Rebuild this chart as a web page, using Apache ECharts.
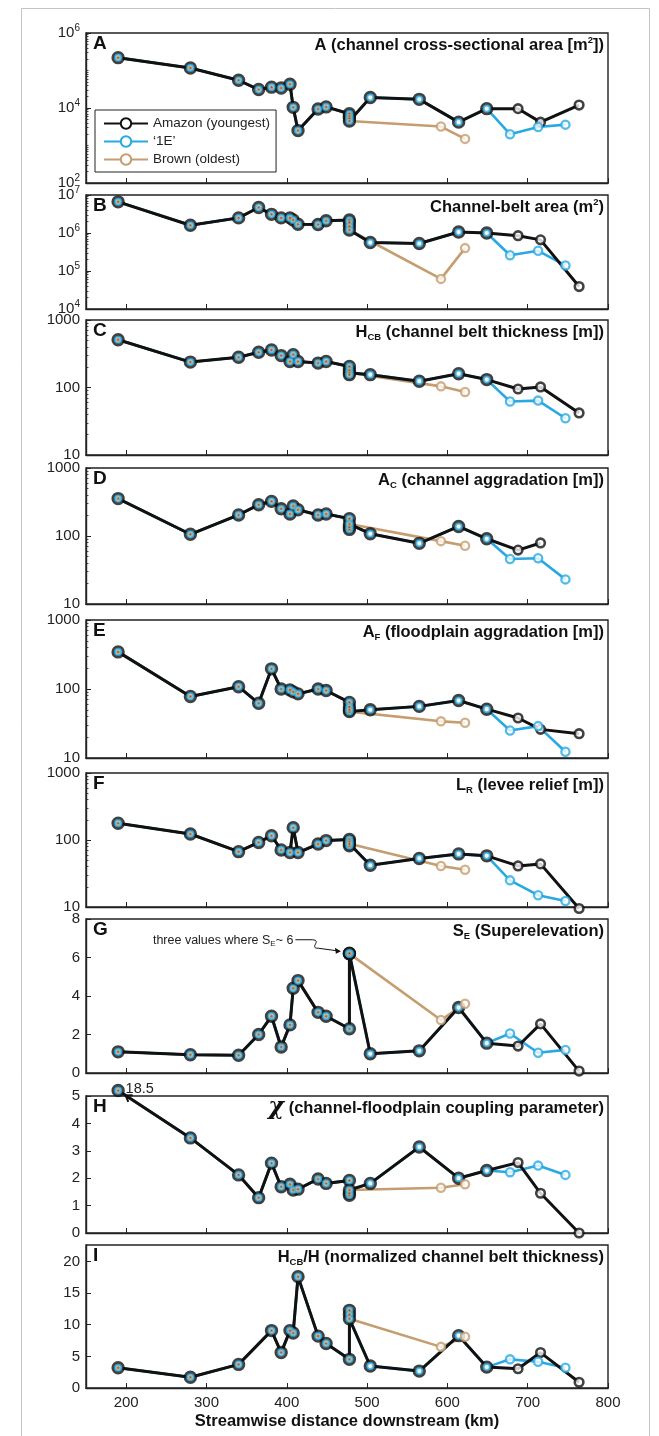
<!DOCTYPE html>
<html><head><meta charset="utf-8">
<script src="https://cdn.jsdelivr.net/npm/echarts@6/dist/echarts.min.js"></script>
<style>html,body{margin:0;padding:0;background:#fff}#c{width:659px;height:1436px}</style>
</head><body><div id="c"></div>
<script>
// ---------------- DATA ----------------
// Amazon stations (streamwise km), in plotted order
const stationKm = [190, 280, 340, 365, 381, 393, 404, 408, 414, 439, 449, 478, 478, 478, 478, 504, 565, 614, 649, 688, 716, 764];
const blueOnlyKm = [678, 713, 747];   // '1E' after it leaves the Amazon path
const brownOnlyKm = [592, 622];       // Brown after it leaves the Amazon path
const sharedWithBlue = 19;            // first 19 stations shared with '1E'
const sharedWithBrown = 15;           // first 15 stations shared with Brown
const xTicks = [200, 300, 400, 500, 600, 700, 800];

// A: channel cross-sectional area [m2]
const areaAmazon = [2.2e5, 1.17e5, 5.5e4, 3.1e4, 3.6e4, 3.4e4, 4.3e4, 1.04e4, 2.5e3, 9.4e3, 1.07e4, 7e3, 6e3, 5.3e3, 4.5e3, 1.9e4, 1.7e4, 4.2e3, 9.6e3, 9.6e3, 4.2e3, 1.2e4];
const areaBlue = [2.0e3, 3.1e3, 3.6e3];
const areaBrown = [3.2e3, 1.5e3];
// B: channel-belt area (m2)
const beltAmazon = [6.6e6, 1.6e6, 2.5e6, 4.7e6, 3.1e6, 2.5e6, 2.5e6, 2.2e6, 1.7e6, 1.67e6, 2.1e6, 2.2e6, 1.9e6, 1.5e6, 1.2e6, 5.6e5, 5.3e5, 1.06e6, 1.0e6, 8.5e5, 6.6e5, 3.9e4];
const beltBlue = [2.6e5, 3.4e5, 1.4e5];
const beltBrown = [6.2e4, 4.0e5];
// C: H_CB channel belt thickness [m]
const hcbAmazon = [510, 238, 281, 332, 360, 297, 243, 307, 243, 230, 243, 205, 180, 165, 155, 155, 124, 160, 131, 95, 102, 42];
const hcbBlue = [62, 64, 35];
const hcbBrown = [104, 86];
// D: A_C channel aggradation [m]
const acAmazon = [355, 106, 204, 288, 323, 251, 211, 276, 243, 204, 211, 180, 125, 135, 150, 108, 78, 138, 91, 62, 79, null];
const acBlue = [46, 47, 23];
const acBrown = [84, 72];
// E: A_F floodplain aggradation [m]
const afAmazon = [345, 78, 108, 62, 196, 100, 97, 91, 85, 100, 95, 64, 55, 47, 50, 50, 56, 68, 51, 38, 26, 22.5];
const afBlue = [25, 29, 12.3];
const afBrown = [34, 32.5];
// F: L_R levee relief [m]
const lrAmazon = [178, 123, 67, 92, 116, 71, 65, 153, 65, 87, 98, 102, 95, 82, 88, 42, 53, 62, 58, 41, 44, 9.5];
const lrBlue = [25, 15, 12.3];
const lrBrown = [41, 36];
// G: S_E superelevation
const seAmazon = [1.1, 0.95, 0.92, 2.0, 2.95, 1.35, 2.5, 4.4, 4.8, 3.15, 2.95, 2.3, 6.2, 6.2, 6.22, 1.0, 1.15, 3.4, 1.55, 1.4, 2.55, 0.1];
const seBlue = [2.05, 1.05, 1.2];
const seBrown = [2.75, 3.6];
// H: chi channel-floodplain coupling parameter (first value 18.5 is off scale)
const chiAmazon = [18.5, 3.47, 2.12, 1.29, 2.55, 1.69, 1.78, 1.57, 1.6, 1.97, 1.81, 1.92, 1.38, 1.45, 1.57, 1.81, 3.14, 2.0, 2.28, 2.57, 1.45, 0.0];
const chiBlue = [2.22, 2.46, 2.12];
const chiBrown = [1.65, 1.78];
// I: H_CB/H normalized channel belt thickness
const normAmazon = [3.2, 1.7, 3.73, null, 9.07, 5.6, 9.07, 8.7, 17.6, 8.2, 7.04, 4.53, 12.27, 11.6, 10.93, 3.47, 2.67, 8.27, 3.3, 3.04, 5.6, 0.9];
const normBlue = [4.53, 4.16, 3.2];
const normBrown = [6.5, 8.1];

// y tick labels
const yTicksA = [1e2, 1e4, 1e6];
const yTicksB = [1e4, 1e5, 1e6, 1e7];
const yTicksLog3 = [10, 100, 1000];
const yTicksG = [0, 2, 4, 6, 8];
const yTicksH = [0, 1, 2, 3, 4, 5];
const yTicksI = [0, 5, 10, 15, 20];

const seriesNames = ['Amazon (youngest)', '\u20181E\u2019', 'Brown (oldest)'];

// ---------------- STYLE / LAYOUT ----------------
const FONT = '"Liberation Sans", Arial, Helvetica, sans-serif';
const BLACK = '#111111', BLUE = '#29A9E1', TAN = '#C59D6E', AX = '#222222';
const layout = [[33, 183], [195, 309], [320, 455], [468, 604], [620, 758], [773, 907], [919, 1073], [1096, 1233], [1245, 1388]];

const panels = [
  {letter: 'A', title: '{m|A (channel cross-sectional area [m}{sup|2}{m|])}', am: areaAmazon, bl: areaBlue, br: areaBrown, log: true, min: 1e2, max: 1e6, labels: yTicksA, pow: true},
  {letter: 'B', title: '{m|Channel-belt area (m}{sup|2}{m|)}', am: beltAmazon, bl: beltBlue, br: beltBrown, log: true, min: 1e4, max: 1e7, labels: yTicksB, pow: true},
  {letter: 'C', title: '{m|H}{sub|CB}{m| (channel belt thickness [m])}', am: hcbAmazon, bl: hcbBlue, br: hcbBrown, log: true, min: 10, max: 1000, labels: yTicksLog3},
  {letter: 'D', title: '{m|A}{sub|C}{m| (channel aggradation [m])}', am: acAmazon, bl: acBlue, br: acBrown, log: true, min: 10, max: 1000, labels: yTicksLog3},
  {letter: 'E', title: '{m|A}{sub|F}{m| (floodplain aggradation [m])}', am: afAmazon, bl: afBlue, br: afBrown, log: true, min: 10, max: 1000, labels: yTicksLog3},
  {letter: 'F', title: '{m|L}{sub|R}{m| (levee relief [m])}', am: lrAmazon, bl: lrBlue, br: lrBrown, log: true, min: 10, max: 1000, labels: yTicksLog3},
  {letter: 'G', title: '{m|S}{sub|E}{m| (Superelevation)}', am: seAmazon, bl: seBlue, br: seBrown, log: false, min: 0, max: 8, labels: yTicksG},
  {letter: 'H', title: '{chi|\u03C7}{m| (channel-floodplain coupling parameter)}', am: chiAmazon, bl: chiBlue, br: chiBrown, log: false, min: 0, max: 5, labels: yTicksH, capAt: 5.2},
  {letter: 'I', title: '{m|H}{sub|CB}{m|/H (normalized channel belt thickness)}', am: normAmazon, bl: normBlue, br: normBrown, log: false, min: 0, max: 22.6, labels: yTicksI}
];

const titleRich = {
  m: {fontSize: 16.5, fontWeight: 'bold', fontFamily: FONT, color: '#111', lineHeight: 20},
  sub: {fontSize: 9.5, fontWeight: 'bold', fontFamily: FONT, color: '#111', lineHeight: 9, verticalAlign: 'bottom'},
  sup: {fontSize: 9.5, fontWeight: 'bold', fontFamily: FONT, color: '#111', lineHeight: 9, verticalAlign: 'top'},
  chi: {fontSize: 24, fontStyle: 'italic', fontFamily: '"DejaVu Serif", serif', color: '#111', lineHeight: 20}
};

function minorLogTicks(min, max) {
  const out = [];
  const e0 = Math.round(Math.log10(min)), e1 = Math.round(Math.log10(max));
  for (let e = e0; e < e1; e++) {
    for (let k = 1; k <= 9; k++) {
      if (k === 1 && e === e0) continue;
      out.push(k * Math.pow(10, e));
    }
  }
  return out;
}

const grids = [], xAxes = [], yAxes = [], series = [], titles = [];
const amScatterIdx = [];
const lineBase = {type: 'line', showSymbol: false, symbol: 'emptyCircle', clip: false, silent: true, z: 2, connectNulls: true};
const tickFont = {fontSize: 15, color: '#222', fontFamily: FONT};

panels.forEach((p, i) => {
  const [top, bottom] = layout[i];
  const last = i === panels.length - 1;
  grids.push({left: 86, right: 51, top: top, height: bottom - top, show: true, borderColor: AX, borderWidth: 1.4, backgroundColor: 'rgba(0,0,0,0)'});
  xAxes.push({
    gridIndex: i, type: 'value', min: 150, max: 800, position: 'bottom',
    axisLine: {show: true, onZero: false, lineStyle: {color: AX, width: 1.4}},
    axisTick: {show: true, inside: true, length: 5, customValues: xTicks, lineStyle: {color: AX, width: 1}},
    axisLabel: Object.assign({show: last, customValues: xTicks, margin: 7}, tickFont),
    splitLine: {show: false},
    name: last ? 'Streamwise distance downstream (km)' : '',
    nameLocation: 'middle', nameGap: 25,
    nameTextStyle: {fontSize: 16.5, fontWeight: 'bold', color: '#111', fontFamily: FONT}
  });
  const fmt = p.pow ? (v => '{b|10}{s|' + Math.round(Math.log10(v)) + '}') : (v => String(Math.round(v * 100) / 100));
  yAxes.push({
    gridIndex: i, type: p.log ? 'log' : 'value', logBase: 10, min: p.min, max: p.max, position: 'left',
    axisLine: {show: true, onZero: false, lineStyle: {color: AX, width: 1.4}},
    axisTick: {show: true, inside: true, length: 5, customValues: p.labels, lineStyle: {color: AX, width: 1}},
    axisLabel: Object.assign({show: true, customValues: p.labels, margin: 6, formatter: fmt,
      rich: {b: {fontSize: 15, lineHeight: 20, color: '#222', fontFamily: FONT}, s: {fontSize: 10, lineHeight: 10, verticalAlign: 'top', color: '#222', fontFamily: FONT}}}, tickFont),
    splitLine: {show: false}
  });
  yAxes.push({
    gridIndex: i, type: p.log ? 'log' : 'value', logBase: 10, min: p.min, max: p.max, position: 'left', offset: 0,
    axisLine: {show: false, onZero: false},
    axisTick: {show: p.log, inside: true, length: 2.5, customValues: p.log ? minorLogTicks(p.min, p.max) : p.labels, lineStyle: {color: AX, width: 0.8}},
    axisLabel: {show: false},
    splitLine: {show: false}
  });
  const yi = 2 * i;
  const cap = v => (p.capAt != null && v != null && v > p.capAt) ? p.capAt : v;

  const amX = stationKm, amY = p.am.map(cap);
  const blX = stationKm.slice(0, sharedWithBlue).concat(blueOnlyKm);
  const blY = amY.slice(0, sharedWithBlue).concat(p.bl);
  const brX = stationKm.slice(0, sharedWithBrown).concat(brownOnlyKm);
  const brY = amY.slice(0, sharedWithBrown).concat(p.br);
  const pts = (xs, ys) => xs.map((x, k) => ys[k] == null ? null : [x, ys[k]]).filter(d => d);

  // lines (brown, blue under black)
  series.push(Object.assign({}, lineBase, {name: seriesNames[2], xAxisIndex: i, yAxisIndex: yi, data: pts(brX, brY),
    lineStyle: {color: TAN, width: 2.6}, itemStyle: {color: TAN}}));
  series.push(Object.assign({}, lineBase, {name: seriesNames[1], xAxisIndex: i, yAxisIndex: yi, data: pts(blX, blY),
    lineStyle: {color: BLUE, width: 2.6}, itemStyle: {color: BLUE}}));
  series.push(Object.assign({}, lineBase, {name: seriesNames[0], xAxisIndex: i, yAxisIndex: yi, data: pts(amX, amY),
    lineStyle: {color: BLACK, width: 3}, itemStyle: {color: BLACK}}));

  // markers
  const items = (xs, ys, styler) => xs.map((x, k) => ys[k] == null ? null : Object.assign({value: [x, ys[k]]}, styler(k))).filter(d => d);
  amScatterIdx.push(series.length);
  series.push({type: 'scatter', name: 'am-m', xAxisIndex: i, yAxisIndex: yi, clip: false, silent: true, z: 3, symbol: 'circle',
    data: items(amX, amY, k => k < sharedWithBlue
      ? {symbolSize: 9.8, itemStyle: {color: '#fff', borderColor: BLACK, borderWidth: 3.6}}
      : {symbolSize: 8.6, itemStyle: {color: '#fff', borderColor: BLACK, borderWidth: 2.6}})});
  series.push({type: 'scatter', name: 'bl-m', xAxisIndex: i, yAxisIndex: yi, clip: false, silent: true, z: 4, symbol: 'circle',
    data: items(blX, blY, k => k < sharedWithBlue
      ? {symbolSize: 6.2, itemStyle: {color: '#fff', borderColor: BLUE, borderWidth: 2}}
      : {symbolSize: 8.2, itemStyle: {color: '#fff', borderColor: BLUE, borderWidth: 2.3}})});
  series.push({type: 'scatter', name: 'br-m', xAxisIndex: i, yAxisIndex: yi, clip: false, silent: true, z: 5, symbol: 'circle',
    data: items(brX, brY, k => k < sharedWithBrown
      ? {symbolSize: 3, itemStyle: {color: '#444', borderColor: TAN, borderWidth: 1.4}}
      : {symbolSize: 8.2, itemStyle: {color: '#fff', borderColor: TAN, borderWidth: 2.3}})});

  titles.push({text: p.title, right: 55, top: top + 2, padding: 0, textStyle: {rich: titleRich}});
  titles.push({text: p.letter, left: 93, top: top + 1, padding: 0,
    textStyle: {fontSize: 19, fontWeight: 'bold', color: '#111', fontFamily: FONT, lineHeight: 20}});
});

const chart = echarts.init(document.getElementById('c'), null, {renderer: 'canvas'});
chart.setOption({
  animation: false,
  backgroundColor: '#fff',
  title: titles,
  grid: grids, xAxis: xAxes, yAxis: yAxes, series: series,
  legend: {
    data: seriesNames, orient: 'vertical', left: 95, top: 110,
    padding: [6, 6, 5, 8], itemGap: 3, itemWidth: 44, itemHeight: 13,
    backgroundColor: '#fff', borderColor: AX, borderWidth: 1, borderRadius: 0,
    selectedMode: false,
    textStyle: {fontSize: 13.5, color: '#222', fontFamily: FONT, lineHeight: 15}
  }
});

// ---------------- ANNOTATIONS (anchored to data points) ----------------
const g = [];
// G: three values where S_E ~ 6
const gi = 6, gk = 14;
const P = chart.convertToPixel({seriesIndex: amScatterIdx[gi]}, [stationKm[gk], seAmazon[gk]]);
g.push({type: 'text', x: P[0] - 56, y: P[1] - 13, z: 50,
  style: {text: '{t|three values where S}{s|E}{t|~ 6}', align: 'right', verticalAlign: 'middle',
    rich: {t: {fontSize: 12.5, fontFamily: FONT, fill: '#222', lineHeight: 15}, s: {fontSize: 8, fontFamily: FONT, fill: '#222', lineHeight: 7, verticalAlign: 'bottom'}}}});
g.push({type: 'polyline', z: 50, shape: {points: [[P[0] - 54, P[1] - 13.5], [P[0] - 37, P[1] - 13.5]]}, style: {stroke: '#111', lineWidth: 1, fill: null}});
g.push({type: 'bezierCurve', z: 50, shape: {x1: P[0] - 37, y1: P[1] - 13.5, cpx1: P[0] - 27, cpy1: P[1] - 13, cpx2: P[0] - 41, cpy2: P[1] - 5, x2: P[0] - 31, y2: P[1] - 5}, style: {stroke: '#111', lineWidth: 1, fill: null}});
g.push({type: 'line', z: 50, shape: {x1: P[0] - 31, y1: P[1] - 5, x2: P[0] - 12.5, y2: P[1] - 2.5}, style: {stroke: '#111', lineWidth: 1}});
g.push({type: 'polygon', z: 50, shape: {points: [[P[0] - 8.5, P[1] - 2], [P[0] - 14.5, P[1] - 5.5], [P[0] - 13.5, P[1] + 0.5]]}, style: {fill: '#111'}});

// H: off-scale value 18.5 with arrow
const hi = 7;
const H0 = chart.convertToPixel({seriesIndex: amScatterIdx[hi]}, [stationKm[0], Math.min(chiAmazon[0], panels[hi].capAt)]);
const H1 = chart.convertToPixel({seriesIndex: amScatterIdx[hi]}, [stationKm[1], chiAmazon[1]]);
g.push({type: 'text', x: H0[0] + 7.5, y: H0[1] - 2, z: 50,
  style: {text: String(chiAmazon[0]), fontSize: 14.5, fontFamily: FONT, fill: '#222', align: 'left', verticalAlign: 'middle'}});
const dx = H1[0] - H0[0], dy = H1[1] - H0[1], dl = Math.hypot(dx, dy);
const ux = dx / dl, uy = dy / dl;
const T = [H0[0] + ux * 9, H0[1] + uy * 9];
const rot = (a) => [ux * Math.cos(a) - uy * Math.sin(a), ux * Math.sin(a) + uy * Math.cos(a)];
const r1 = rot(0.6), r2 = rot(-0.6);
g.push({type: 'polyline', z: 50, shape: {points: [[T[0] + r1[0] * 7, T[1] + r1[1] * 7], T, [T[0] + r2[0] * 7, T[1] + r2[1] * 7]]},
  style: {stroke: '#111', lineWidth: 2, fill: null}});

// outer light frame
g.push({type: 'rect', z: 0, shape: {x: 21.5, y: 8.5, width: 628, height: 1440}, style: {fill: null, stroke: '#c4c4c4', lineWidth: 1}});

chart.setOption({graphic: g});
</script>
</body></html>
